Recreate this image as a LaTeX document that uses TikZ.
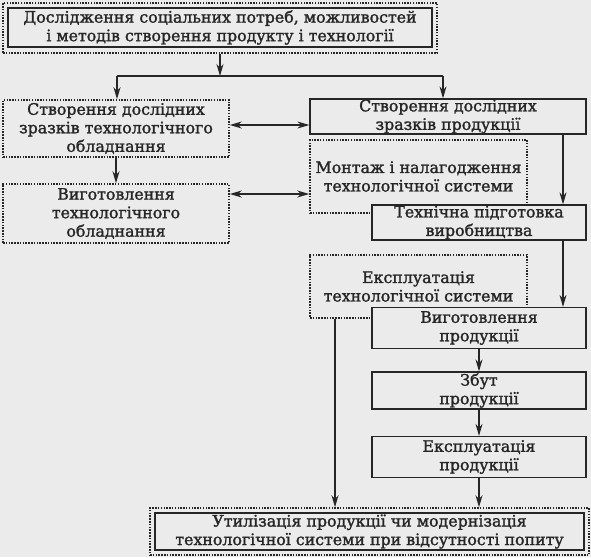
\documentclass[tikz,border=0pt]{standalone}
\usepackage{fontspec}
\setmainfont{DejaVu Serif}
\newfontfamily\boxfont{DejaVu Serif}[FakeBold=1.6]
\usetikzlibrary{arrows.meta}
\definecolor{paper}{gray}{0.92}
\definecolor{ink}{gray}{0.15}
\tikzset{
  box/.style={draw=ink, fill=paper, text=ink, align=center, inner sep=0pt,
    font=\boxfont\fontsize{15.8}{18.5}\selectfont},
  solidbox/.style={box, line width=1.3pt},
  dotbox/.style={box, line width=1.6pt, dash pattern=on 1.5pt off 1.3pt},
  line/.style={draw=ink, line width=1.1pt},
  arr/.style={line, -{Stealth[length=12pt,width=7pt]}},
  dblarr/.style={line, {Stealth[length=12pt,width=7pt]}-{Stealth[length=12pt,width=7pt]}}
}
\begin{document}
\begin{tikzpicture}[x=1pt,y=-1pt]
  \useasboundingbox (0,0) rectangle (591,557);
  \fill[paper] (0,0) rectangle (591,557);

  \node[dotbox, minimum width=434, minimum height=50] (topo) at (220,28) {};
  \node[solidbox, minimum width=424, minimum height=39] (top) at (220,27.5)
    {Дослідження соціальних потреб, можливостей\\і методів створення продукту і технології};

  \node[dotbox, minimum width=226, minimum height=57] (lb1) at (116,128.5)
    {Створення дослідних\\зразків технологічного\\обладнання};
  \node[dotbox, minimum width=226, minimum height=59] (lb2) at (116,213.5)
    {Виготовлення\\технологічного\\обладнання};

  \node[solidbox, minimum width=276, minimum height=35] (rb1) at (448,116.5)
    {Створення дослідних\\зразків продукції};
  \node[dotbox, minimum width=217, minimum height=73] (mb) at (418.5,176.5)
    {Монтаж і налагодження\\технологічної системи};
  \node[solidbox, minimum width=214, minimum height=35] (tp) at (479,222.5)
    {Технічна підготовка\\виробництва};
  \node[dotbox, minimum width=217, minimum height=63] (es) at (418.5,286.5)
    {Експлуатація\\технологічної системи};
  \node[solidbox, minimum width=214, minimum height=41] (vp) at (479,328)
    {Виготовлення\\продукції};
  \node[solidbox, minimum width=214, minimum height=37] (zb) at (479,390.5)
    {Збут\\продукції};
  \node[solidbox, minimum width=214, minimum height=41] (ep) at (479,457)
    {Експлуатація\\продукції};

  \node[dotbox, minimum width=439, minimum height=47] (boto) at (369.5,531.5) {};
  \node[solidbox, minimum width=429, minimum height=37] (bot) at (369.5,531.5)
    {Утилізація продукції чи модернізація\\технологічної системи при відсутності попиту};

  \coordinate (jl) at (117,76);
  \coordinate (jr) at (443,76);
  \coordinate (r1) at (0,125);
  \coordinate (r2) at (0,194);
  \coordinate (cr) at (563,0);
  \coordinate (cl) at (335,0);

  \draw[arr] (topo.south) -- (topo.south |- jl);
  \draw[line] (jl) -- (jr);
  \draw[arr] (jl) -- (jl |- lb1.north);
  \draw[arr] (jr) -- (jr |- rb1.north);
  \draw[arr] (lb1) -- (lb2);
  \draw[dblarr] (lb1.east |- r1) -- (rb1.west |- r1);
  \draw[dblarr] (lb2.east |- r2) -- (mb.west |- r2);
  \draw[arr] (rb1.south -| cr) -- (tp.north -| cr);
  \draw[arr] (tp.south -| cr) -- (vp.north -| cr);
  \draw[arr] (vp) -- (zb);
  \draw[arr] (zb) -- (ep);
  \draw[arr] (ep.south) -- (ep.south |- boto.north);
  \draw[arr] (es.south -| cl) -- (boto.north -| cl);
\end{tikzpicture}
\end{document}
